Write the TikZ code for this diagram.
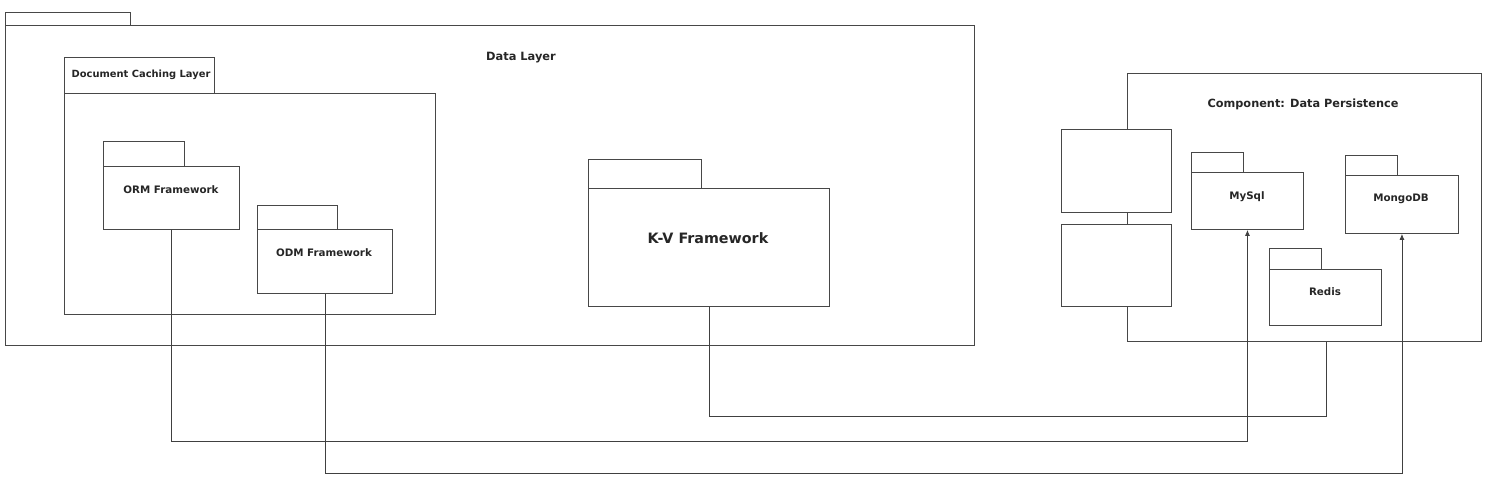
\documentclass[tikz,border=0pt]{standalone}
\usepackage{fontspec}
\setmainfont{DejaVu Sans}
\usetikzlibrary{arrows.meta}
\begin{document}
\begin{tikzpicture}[x=1pt,y=-1pt,
  box/.style={draw=black!72,line width=0.9pt,fill=white,rectangle,inner sep=0pt,anchor=north west},
  lbl/.style={font=\bfseries\fontsize{10.3}{12}\selectfont,text=black!85,inner sep=0pt},
  conn/.style={draw=black!75,line width=0.8pt},
  arr/.style={conn,-{Latex[length=6pt,width=5pt]}}]
\useasboundingbox[fill=white] (0,0) rectangle (1500,495);
% Data Layer
\node[box,minimum width=125pt,minimum height=13pt] (dltab) at (5,12) {};
\node[box,minimum width=969pt,minimum height=320pt] (dl) at (5,25) {};
\node[lbl,font=\bfseries\fontsize{11.4}{13}\selectfont] (dllbl) at (521,58) {Data Layer};
% Document Caching Layer
\node[box,minimum width=150pt,minimum height=36pt] (dctab) at (64,57) {};
\node[box,minimum width=371pt,minimum height=221pt] (dc) at (64,93) {};
\node[lbl,font=\bfseries\fontsize{9.9}{12}\selectfont] (dclbl) at (141,75) {Document Caching Layer};
% ORM
\node[box,minimum width=81pt,minimum height=25pt] (ormtab) at (103,141) {};
\node[box,minimum width=136pt,minimum height=63pt] (orm) at (103,166) {};
\node[lbl] (ormlbl) at (171,190) {ORM Framework};
% ODM
\node[box,minimum width=80pt,minimum height=24pt] (odmtab) at (257,205) {};
\node[box,minimum width=135pt,minimum height=64pt] (odm) at (257,229) {};
\node[lbl] (odmlbl) at (324,253) {ODM Framework};
% K-V
\node[box,minimum width=113pt,minimum height=29pt] (kvtab) at (588,159) {};
\node[box,minimum width=241pt,minimum height=118pt] (kv) at (588,188) {};
\node[lbl,font=\bfseries\fontsize{14.3}{16}\selectfont] (kvlbl) at (708,238) {K-V Framework};
% Component
\node[box,minimum width=354pt,minimum height=268pt] (comp) at (1127,73) {};
\node[lbl,font=\bfseries\fontsize{11.3}{13}\selectfont] (complbl) at (1303,104) {Component: Data Persistence};
\node[box,minimum width=110pt,minimum height=83pt] (port1) at (1061,129) {};
\node[box,minimum width=110pt,minimum height=82pt] (port2) at (1061,224) {};
% MySql
\node[box,minimum width=52pt,minimum height=20pt] (mysqltab) at (1191,152) {};
\node[box,minimum width=112pt,minimum height=57pt] (mysql) at (1191,172) {};
\node[lbl] (mysqllbl) at (1247,197) {MySql};
% MongoDB
\node[box,minimum width=52pt,minimum height=20pt] (mongotab) at (1345,155) {};
\node[box,minimum width=113pt,minimum height=58pt] (mongo) at (1345,175) {};
\node[lbl] (mongolbl) at (1401,199) {MongoDB};
% Redis
\node[box,minimum width=52pt,minimum height=21pt] (redistab) at (1269,248) {};
\node[box,minimum width=112pt,minimum height=56pt] (redis) at (1269,269) {};
\node[lbl] (redislbl) at (1325,292) {Redis};
% connectors
\coordinate (ya) at (0,441);
\coordinate (yb) at (0,473);
\coordinate (yc) at (0,416);
\coordinate (compin) at ([xshift=22pt]comp.south);
\draw[arr] (orm.south) -- (orm.south |- ya) -| (mysql.south);
\draw[arr] (odm.south) -- (odm.south |- yb) -| (mongo.south);
\draw[conn] (kv.south) -- (kv.south |- yc) -| (compin);
\end{tikzpicture}
\end{document}
